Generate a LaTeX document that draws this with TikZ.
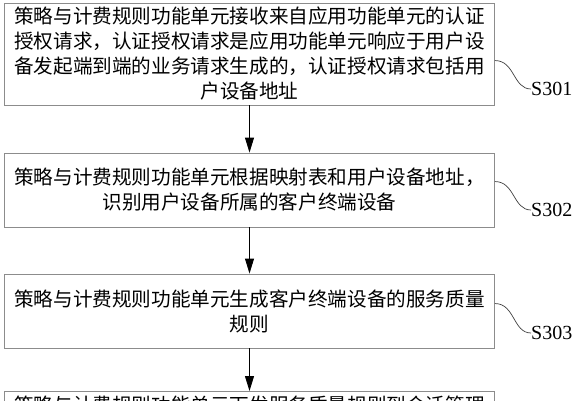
\documentclass[tikz,border=0pt]{standalone}
\usepackage{fontspec}
\setmainfont{Liberation Serif}
\newfontfamily\cjk{Noto Sans CJK SC}
\usetikzlibrary{arrows.meta}
\begin{document}
\begin{tikzpicture}[x=1pt,y=-1pt,
  stepbox/.style={draw=black!45,line width=0.9pt,minimum width=490pt,text width=486pt,align=center,inner sep=0pt,font=\cjk\fontsize{19.6pt}{25pt}\selectfont},
  arr/.style={line width=0.9pt,-{Triangle[length=15pt,width=9pt]}},
  tilde/.style={line width=0.7pt,black!75},
  steplabel/.style={anchor=west,inner sep=0pt,font=\fontsize{20pt}{22pt}\selectfont}]
\useasboundingbox (0,0) rectangle (579,400);
\clip (0,0) rectangle (579,400);
\fill[white] (0,0) rectangle (579,400);
\node[stepbox,minimum height=102pt] (b1) at (249.5,54) {策略与计费规则功能单元接收来自应用功能单元的认证\\授权请求，认证授权请求是应用功能单元响应于用户设\\备发起端到端的业务请求生成的，认证授权请求包括用\\户设备地址};
\node[stepbox,minimum height=74pt] (b2) at (249.5,190) {策略与计费规则功能单元根据映射表和用户设备地址，\\识别用户设备所属的客户终端设备};
\node[stepbox,minimum height=74pt] (b3) at (249.5,311) {策略与计费规则功能单元生成客户终端设备的服务质量\\规则};
\node[stepbox,minimum height=73pt,anchor=north] (b4) at (249.5,391) {};
\node[anchor=north,inner sep=0pt,font=\cjk\fontsize{19.6pt}{25pt}\selectfont] (t4) at (249.5,396) {策略与计费规则功能单元下发服务质量规则到会话管理};
\draw[arr] (b1.south) -- (b2.north);
\draw[arr] (b2.south) -- (b3.north);
\draw[arr] (b3.south) -- (b4.north);
\node[steplabel] (l1) at (531,89) {S301};
\node[steplabel] (l2) at (531,210) {S302};
\node[steplabel] (l3) at (531,333) {S303};
\draw[tilde] ([yshift=-58pt]b1.north east) .. controls +(20,0) and +(-18,0) .. (l1.west);
\draw[tilde] ([yshift=-29pt]b2.north east) .. controls +(20,0) and +(-18,0) .. (l2.west);
\draw[tilde] ([yshift=-30pt]b3.north east) .. controls +(20,0) and +(-18,0) .. (l3.west);
\end{tikzpicture}
\end{document}
